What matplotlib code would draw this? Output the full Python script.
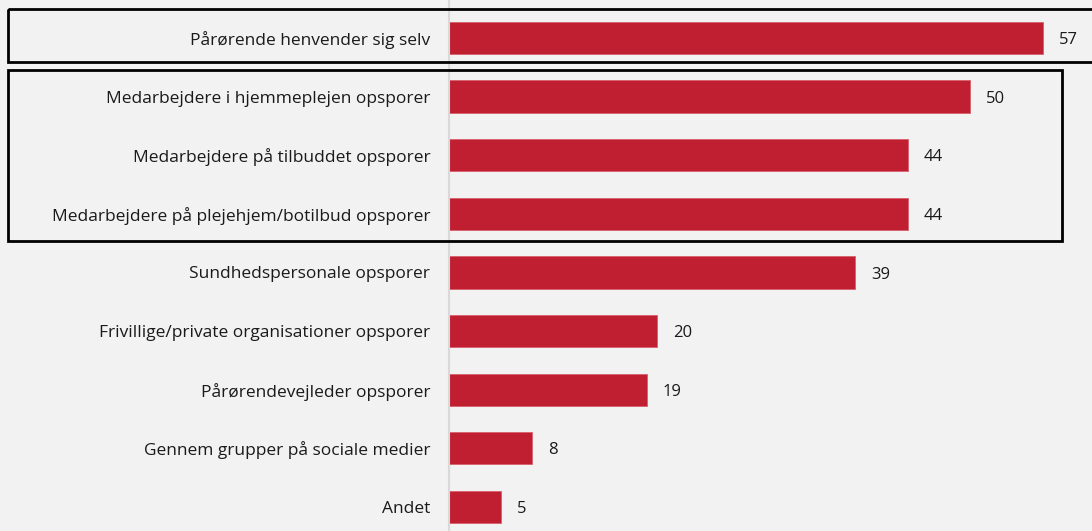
import matplotlib.pyplot as plt
from matplotlib.patches import Rectangle
from matplotlib.transforms import blended_transform_factory

categories = [
    "Pårørende henvender sig selv",
    "Medarbejdere i hjemmeplejen opsporer",
    "Medarbejdere på tilbuddet opsporer",
    "Medarbejdere på plejehjem/botilbud opsporer",
    "Sundhedspersonale opsporer",
    "Frivillige/private organisationer opsporer",
    "Pårørendevejleder opsporer",
    "Gennem grupper på sociale medier",
    "Andet",
]
values = [57, 50, 44, 44, 39, 20, 19, 8, 5]

BG = "#f2f2f2"
RED = "#c01f32"

plt.rcParams["font.family"] = ["Open Sans", "DejaVu Sans"]

fig = plt.figure(figsize=(10.92, 5.31), dpi=100, facecolor=BG)
ax = fig.add_axes([449 / 1092, 0, 1 - 449 / 1092, 1])
ax.set_facecolor(BG)

ypos = list(range(len(categories)))
ax.barh(ypos, values, height=0.55, color=RED, edgecolor="#d9606c", linewidth=0.6)
for y, v in zip(ypos, values):
    ax.annotate(str(v), (v, y), xytext=(11.5, -1.5), textcoords="offset points",
                va="center", ha="left", fontsize=12, color="#1a1a1a")

ax.set_xlim(0, 61.7)
ax.set_ylim(8.41, -0.648)
ax.set_xticks([])
ax.set_yticks(ypos)
ax.set_yticklabels(categories, fontsize=12.5, color="#1a1a1a")
ax.tick_params(axis="y", length=0, pad=13.5)
for side in ("top", "right", "bottom"):
    ax.spines[side].set_visible(False)
ax.spines["left"].set_color("#d9d9d9")
ax.spines["left"].set_linewidth(1.5)

# rammer om de fremhævede rækker
trans = blended_transform_factory(fig.transFigure, ax.transData)
for x0, x1, y0, y1 in [(8 / 1092, 1.01, -0.49, 0.41), (8 / 1092, 1062 / 1092, 0.55, 3.46)]:
    fig.patches.append(Rectangle((x0, y0), x1 - x0, y1 - y0, transform=trans,
                                 fill=False, edgecolor="black", linewidth=2, zorder=5))

fig.savefig("out.png", dpi=100, facecolor=BG)
